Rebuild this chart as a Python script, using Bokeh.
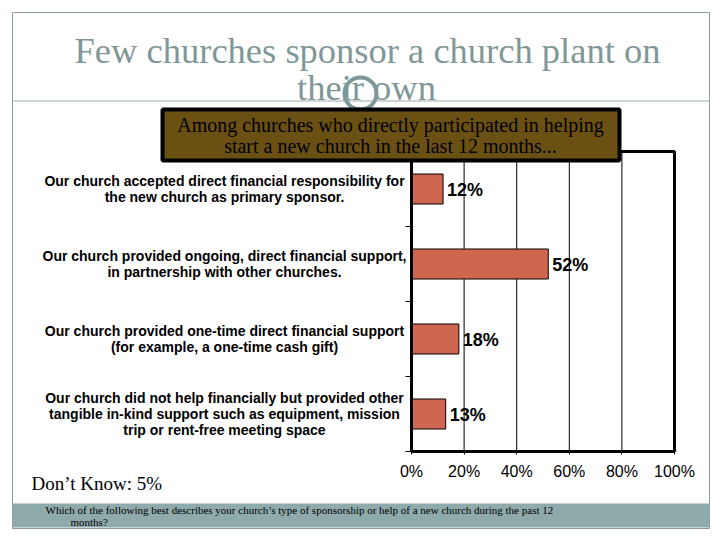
from bokeh.plotting import figure
from bokeh.models import (ColumnDataSource, Range1d, FixedTicker, LinearAxis,
                          CustomJSTickFormatter)
from bokeh.core.properties import value
from bokeh.embed import file_html
from bokeh.resources import INLINE

# ---- data ----
categories = [
    "Our church accepted direct financial responsibility for\nthe new church as primary sponsor.",
    "Our church provided ongoing, direct financial support,\nin partnership with other churches.",
    "Our church provided one-time direct financial support\n(for example, a one-time cash gift)",
    "Our church did not help financially but provided other\ntangible in-kind support such as equipment, mission\ntrip or rent-free meeting space",
]
values = [12, 52, 18, 13]
tick_values = [0, 20, 40, 60, 80, 100]
tick_labels = ["0%", "20%", "40%", "60%", "80%", "100%"]

title_lines = ["Few churches sponsor a church plant on", "their own"]
box_lines = ["Among churches who directly participated in helping",
             "start a new church in the last 12 months..."]
dont_know = "Don\u2019t Know: 5%"
question_lines = ["Which of the following best describes your church\u2019s type of sponsorship or help of a new church during the past 12",
                  "months?"]

# ---- layout (page pixel coordinates) ----
W, H = 716, 536
X0, Y0 = 0, 0
FL, FR, FT, FB = 411, 674, 151, 451  # chart plot area
N = len(categories)
s_pct = (FR - FL) / 100.0
s_cat = (FB - FT) / N

TITLE_COL = "#7F9797"
BAR_COL = "#CF6650"
BROWN = "#6B5013"
BAND = "#8FAAAA"
FRAME_COL = "#8C9C9C"
SERIF = value("Liberation Serif")
SANS = value("Liberation Sans")

p = figure(width=W, height=H,
           x_range=Range1d(X0, X0 + W), y_range=Range1d(Y0 + H, Y0),
           x_axis_type=None, y_axis_type=None,
           output_backend="svg", toolbar_location=None,
           min_border=0, min_border_left=0, min_border_right=0,
           min_border_top=0, min_border_bottom=0)
p.outline_line_color = None
p.background_fill_color = "white"
p.border_fill_color = "white"
p.xgrid.visible = False
p.ygrid.visible = False
p.extra_x_ranges = {"pct": Range1d((X0 - FL) / s_pct, (X0 + W - FL) / s_pct)}
p.extra_y_ranges = {"cat": Range1d((Y0 + H - FT) / s_cat, (Y0 - FT) / s_cat)}

src = ColumnDataSource(dict(
    y=[i + 0.5 for i in range(N)],
    value=values,
    label=[f"{v}%" for v in values],
    cat=categories,
))

# ---- slide decorations ----
p.quad(left=[12], right=[709], top=[12], bottom=[528],
       fill_color=None, line_color=FRAME_COL, line_width=1)
p.quad(left=[12], right=[709], top=[100], bottom=[101],
       fill_color="#9AAAAA", line_color=None)
p.text(x=[367, 366], y=[50, 87], text=title_lines, text_align="center", text_baseline="middle",
       text_font=SERIF, text_font_size="36.5px", text_color=TITLE_COL)
p.circle(x=[360], y=[93], radius=16, fill_color=None, line_color=TITLE_COL, line_width=4)

# ---- chart ----
p.segment(x0=tick_values, x1=tick_values, y0=0, y1=N, line_color="black", line_width=1,
          x_range_name="pct", y_range_name="cat")
p.hbar(y="y", left=0, right="value", height=0.4, source=src,
       fill_color=BAR_COL, line_color="black", line_width=1,
       x_range_name="pct", y_range_name="cat")
p.quad(left=[0], right=[100], top=[0], bottom=[N], fill_color=None,
       line_color="black", line_width=3, x_range_name="pct", y_range_name="cat")
p.text(x="value", y="y", text="label", source=src, x_offset=4, y_offset=1,
       text_font=SANS, text_font_size="18px", text_font_style="bold",
       text_baseline="middle", text_align="left", text_color="black",
       x_range_name="pct", y_range_name="cat")
p.text(x=224, y="y", text="cat", source=src, text_align="center", text_baseline="middle",
       text_font=SANS, text_font_size="14px", text_font_style="bold", text_color="black",
       text_line_height=1.03, y_range_name="cat")

xa = LinearAxis(x_range_name="pct", y_range_name="cat", fixed_location=N, bounds=(0, 100))
xa.ticker = FixedTicker(ticks=tick_values)
xa.major_label_overrides = {t: l for t, l in zip(tick_values, tick_labels)}
xa.major_label_text_font = "Liberation Sans"
xa.major_label_text_font_size = "16px"
xa.major_label_text_color = "black"
xa.major_label_standoff = 8
xa.axis_line_width = 3
xa.axis_line_color = "black"
xa.major_tick_in = 0
xa.major_tick_out = 3
xa.major_tick_line_color = "black"
xa.minor_tick_line_color = None
p.add_layout(xa, "below")

ya = LinearAxis(x_range_name="pct", y_range_name="cat", fixed_location=0, bounds=(0, N))
ya.ticker = FixedTicker(ticks=list(range(N + 1)))
ya.formatter = CustomJSTickFormatter(code="return ''")
ya.axis_line_width = 3
ya.axis_line_color = "black"
ya.major_tick_in = 0
ya.major_tick_out = 6
ya.major_tick_line_color = "black"
ya.minor_tick_line_color = None
p.add_layout(ya, "left")

# ---- callout box (above axes) ----
p.quad(left=[162], right=[619], top=[109], bottom=[160], fill_color=BROWN,
       line_color="black", line_width=4, level="annotation")
p.text(x=[390, 390], y=[124, 145], text=box_lines, text_align="center", text_baseline="middle",
       text_font=SERIF, text_font_size="20px", text_color="black", level="annotation")

# ---- footer ----
p.text(x=[31], y=[483], text=[dont_know], text_align="left", text_baseline="middle",
       text_font=SERIF, text_font_size="19px", text_color="black")
p.quad(left=[12], right=[709], top=[503], bottom=[527], fill_color=BAND, line_color=None)
p.text(x=[45, 70], y=[509, 521], text=question_lines, text_align="left", text_baseline="middle",
       text_font=SERIF, text_font_size="11px", text_color="black")

open("out.html", "w").write(file_html(p, INLINE))
